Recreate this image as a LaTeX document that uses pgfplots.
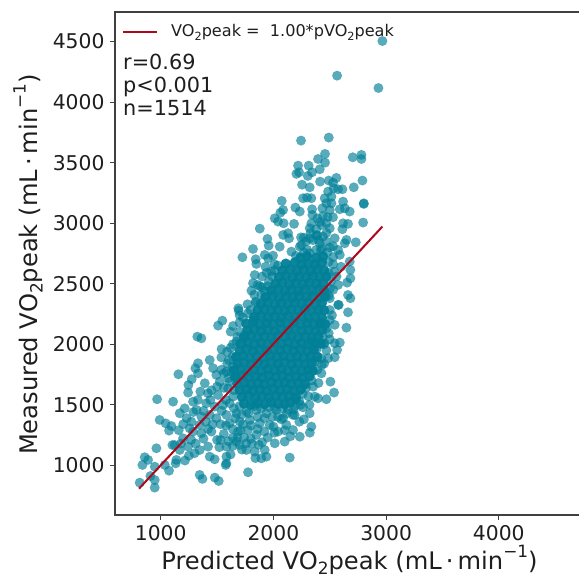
\documentclass[border=0pt]{standalone}
\usepackage{pgfplots}
\usepackage{fontspec}
\setmainfont{DejaVu Sans}
\pgfplotsset{compat=1.18}
\definecolor{dotc}{RGB}{0,127,151}
\definecolor{linec}{RGB}{175,8,28}
\definecolor{txt}{RGB}{30,30,30}
\newcommand{\lowtwo}{\raisebox{-0.22em}{\scalebox{0.7}{2}}}
\newcommand{\upm}{\raisebox{0.48em}{\scalebox{0.7}{−1}}}
\begin{document}
\begin{tikzpicture}[x=1bp,y=1bp]
\clip (0,0) rectangle (579,578);
\begin{axis}[
  at={(115bp,63bp)},anchor=south west,
  scale only axis,width=500bp,height=503bp,
  xmin=594.5,xmax=5031,ymin=590,ymax=4744,
  clip mode=individual,
  xtick={1000,2000,3000,4000},
  ytick={1000,1500,2000,2500,3000,3500,4000,4500},
  /pgf/number format/assume math mode=true,
  /pgf/number format/set thousands separator={},
  tick align=outside,
  xtick pos=bottom,ytick pos=left,
  major tick length=5bp,
  tick style={color=black!75,line width=0.9bp},
  axis line style={color=black!75,line width=1.1bp},
  ticklabel style={font=\fontsize{20.3bp}{22bp}\selectfont,text=txt},
  xticklabel style={yshift=-2bp},
  yticklabel style={xshift=-2bp},
  label style={font=\fontsize{24.2bp}{26bp}\selectfont,text=txt},
  xlabel={Predicted VO\lowtwo peak (mL\,·\,min\upm)},
  ylabel={Measured VO\lowtwo peak (mL\,·\,min\upm)},
  x label style={at={(axis description cs:0.469,0)},anchor=center,yshift=-45bp},
  y label style={at={(axis description cs:0,0.498)},anchor=center,yshift=87bp},
  legend cell align=left,
  legend style={at={(rel axis cs:0.008,0.983)},anchor=north west,draw=none,fill=none,
    font=\fontsize{16.1bp}{18bp}\selectfont,text=txt},
  legend image code/.code={\draw[#1] (0bp,0bp) -- (34bp,0bp);},
]
% dense core
\addplot[only marks,forget plot,mark=*,mark size=5.1bp,
  mark options={draw=dotc,line width=0.4bp,fill=dotc,fill opacity=0.95,draw opacity=0.5}] coordinates {
(1740,1510)(1800,1500)(1860,1515)(1920,1505)(1980,1520)(2040,1510)(2100,1505)(2150,1520)
(1720,1565)(1780,1575)(1840,1560)(1900,1570)(1960,1560)(2020,1575)(2080,1565)(2140,1575)(2200,1560)
(1700,1620)(1760,1630)(1820,1615)(1880,1625)(1940,1615)(2000,1630)(2060,1620)(2120,1630)(2180,1615)(2240,1625)
(1680,1675)(1740,1685)(1800,1670)(1860,1680)(1920,1670)(1980,1685)(2040,1675)(2100,1685)(2160,1670)(2220,1680)(2280,1670)
(1660,1730)(1720,1740)(1780,1725)(1840,1735)(1900,1725)(1960,1740)(2020,1730)(2080,1740)(2140,1725)(2200,1735)(2260,1725)(2320,1735)
(1650,1785)(1710,1795)(1770,1780)(1830,1790)(1890,1780)(1950,1795)(2010,1785)(2070,1795)(2130,1780)(2190,1790)(2250,1780)(2310,1790)(2350,1780)
(1680,1840)(1740,1850)(1800,1835)(1860,1845)(1920,1835)(1980,1850)(2040,1840)(2100,1850)(2160,1835)(2220,1845)(2280,1835)(2340,1845)
(1670,1895)(1730,1905)(1790,1890)(1850,1900)(1910,1890)(1970,1905)(2030,1895)(2090,1905)(2150,1890)(2210,1900)(2270,1890)(2330,1900)(2390,1895)
(1700,1950)(1760,1960)(1820,1945)(1880,1955)(1940,1945)(2000,1960)(2060,1950)(2120,1960)(2180,1945)(2240,1955)(2300,1945)(2360,1955)
(1710,2005)(1770,2015)(1830,2000)(1890,2010)(1950,2000)(2010,2015)(2070,2005)(2130,2015)(2190,2000)(2250,2010)(2310,2000)(2370,2010)(2420,2005)
(1740,2060)(1800,2070)(1860,2055)(1920,2065)(1980,2055)(2040,2070)(2100,2060)(2160,2070)(2220,2055)(2280,2065)(2340,2055)(2400,2065)
(1770,2115)(1830,2125)(1890,2110)(1950,2120)(2010,2110)(2070,2125)(2130,2115)(2190,2125)(2250,2110)(2310,2120)(2370,2110)(2430,2120)
(1760,2170)(1820,2180)(1880,2165)(1940,2175)(2000,2165)(2060,2180)(2120,2170)(2180,2180)(2240,2165)(2300,2175)(2360,2165)(2420,2175)(2460,2165)
(1830,2225)(1890,2235)(1950,2220)(2010,2230)(2070,2220)(2130,2235)(2190,2225)(2250,2235)(2310,2220)(2370,2230)(2430,2220)
(1860,2280)(1920,2290)(1980,2275)(2040,2285)(2100,2275)(2160,2290)(2220,2280)(2280,2290)(2340,2275)(2400,2285)(2450,2280)
(1890,2335)(1950,2345)(2010,2330)(2070,2340)(2130,2330)(2190,2345)(2250,2335)(2310,2345)(2370,2330)(2430,2340)
(1930,2390)(1990,2400)(2050,2385)(2110,2395)(2170,2385)(2230,2400)(2290,2390)(2350,2400)(2410,2385)(2460,2395)
(1980,2445)(2040,2455)(2100,2440)(2160,2450)(2220,2440)(2280,2455)(2340,2445)(2400,2455)(2450,2445)
(2020,2500)(2080,2510)(2140,2495)(2200,2505)(2260,2495)(2320,2510)(2380,2500)(2440,2510)
(2050,2555)(2110,2565)(2170,2550)(2230,2560)(2290,2550)(2350,2565)(2410,2555)(2470,2560)
(2080,2610)(2150,2620)(2210,2605)(2270,2615)(2330,2605)(2390,2620)(2450,2610)
(2110,2665)(2190,2675)(2250,2660)(2310,2670)(2370,2660)(2430,2675)
(2240,2715)(2300,2725)(2380,2715)(2440,2725)
};
% scattered points
\addplot[only marks,forget plot,mark=*,mark size=4.8bp,
  mark options={draw=dotc,line width=0.4bp,draw opacity=0.3,fill=dotc,fill opacity=0.66}] coordinates {
(2967,4504)(2565,4218)(2932,4116)
(2245,3682)(2491,3707)(2458,3572)(2396,3530)(2458,3500)(2704,3544)(2781,3564)(2781,3530)(2219,3475)
(2313,3475)(2204,3407)(2228,3420)(2305,3390)(2343,3420)(2411,3445)(2559,3374)(2414,3343)(2491,3352)
(2529,3335)(2790,3352)(2254,3318)(2322,3296)(2535,3288)(2574,3280)(2612,3280)(2713,3296)(2485,3261)
(2263,3206)(2299,3211)(2337,3206)(2515,3219)(2455,3206)(2470,3164)(2515,3164)(2074,3184)(2618,3178)
(2802,3164)(2802,3159)(2435,3123)(2500,3109)(2589,3115)(2633,3123)(2677,3096)(2195,3129)(2234,3096)
(2086,3109)(2062,3087)(2343,3115)(2346,3068)(2012,3040)(2041,3013)(2091,2999)(2183,2994)(2337,2999)
(2322,2958)(2529,3049)(2470,2999)(2500,2958)(2426,2985)(2618,2999)(2662,2994)(2796,3005)(2612,2950)
(1879,2955)(2086,2903)(2130,2917)(2139,2875)(2245,2883)(2322,2875)(2544,2875)(2648,2862)(2731,2842)
(1947,2870)(1958,2815)(1819,2787)(2056,2806)(2248,2820)(2234,2806)(2411,2834)(2470,2848)(2633,2834)
(1725,2718)(1843,2702)(1849,2663)(1923,2738)(1997,2732)(1953,2710)(2160,2765)(2322,2751)(2589,2738)
(2574,2779)(2677,2683)(2390,2900)(2420,2780)(2480,2760)(2530,2810)(2380,2950)(2270,2760)(2200,2730)
(1834,2572)(1819,2504)(1805,2443)(1893,2407)(1843,2352)(1689,2297)(1796,2283)(1930,2640)(1980,2600)
(1900,2560)(1960,2520)(1880,2480)(2010,2660)(2683,2614)(2683,2545)(2654,2509)(2574,2490)(2662,2407)
(2683,2380)(2580,2325)(2500,2380)(2560,2560)(2600,2640)(2530,2660)(2510,2520)(2530,2450)
(1692,2278)(1843,2344)(1547,2195)(1509,2154)(1325,2063)(1361,2049)(1621,2104)(1642,2151)(1701,2104)
(1672,2022)(1745,2077)(1775,2256)(1820,2201)(1435,1870)(1589,1939)(1538,1892)(1604,1870)(1331,1843)
(1308,1802)(1331,1760)(1275,1711)(1246,1664)(1243,1601)(1352,1609)(1157,1752)(968,1546)(1110,1526)
(1465,1802)(1494,1747)(1583,1774)(1524,1691)(1391,1678)(1420,1595)(1509,1581)(1598,1636)(1627,1774)
(1672,1719)(1287,1526)(1213,1471)(1169,1430)(1317,1458)(1405,1513)(1479,1485)(1553,1499)(1612,1513)
(1642,1568)(991,1375)(1044,1347)(1095,1325)(1074,1287)(1272,1361)(1361,1402)(1435,1416)(1346,1334)
(1257,1306)(1494,1389)(1583,1416)(1672,1430)(1760,1444)(1849,1458)(1938,1430)(2027,1458)(1612,1347)
(1701,1361)(1790,1375)(1879,1347)(1967,1334)(1775,1292)(1686,1279)(1450,1279)(1361,1265)(1287,1279)
(1198,1223)(1124,1168)(1104,1168)(962,1141)(1169,1127)(1243,1155)(1346,1127)(1420,1155)(1435,1072)
(1479,1050)(1583,1155)(1672,1196)(1760,1182)(1760,1127)(1834,1113)(1923,1127)(1583,1017)(1893,1058)
(1938,1072)(2145,1064)(2012,1182)(2100,1196)(2174,1292)(2234,1237)(2337,1320)(2263,1479)(2322,1430)
(2174,1416)(2367,1568)(2396,1554)(2470,1546)(2506,1691)(2538,1601)(2426,1760)(2352,1650)(2115,1334)
(2086,1389)(1849,1251)(2041,1279)(858,1067)(888,1045)(838,1003)(947,989)(1036,1003)(1074,956)(814,857)
(909,912)(947,879)(947,816)(1139,1045)(1133,1017)(1346,921)(1370,888)(1480,899)(1515,871)(1775,943)
(1577,1003)(1583,1072)(1530,1340)(1530,1210)(1640,1230)(1900,1190)
(1250,1080)(1215,1040)(1300,1100)(2500,2283)(2574,2325)(2662,2264)(2648,2137)(2491,2091)(2544,2160)
(2455,2008)(2589,2014)(2544,2008)(2565,1953)(2544,1893)(2485,1884)(2426,1884)(2367,1857)(2381,1953)
(2337,2022)(2500,2201)(2411,2173)(2447,2000)(2323,1270)(2189,1416)
(1650,1470)(1700,1490)(1720,1420)(1780,1430)(1830,1490)(1890,1470)(1960,1480)(2010,1470)(2080,1470)
(2130,1460)(2190,1490)(2230,1530)(1660,1390)(1730,1340)(1800,1330)(1860,1400)(1920,1390)(1990,1400)
(2040,1400)(1640,1300)(1710,1290)(1740,1230)(1800,1220)(1860,1300)(1920,1280)(1680,1230)(1640,1160)
(1720,1130)(1810,1180)(1870,1170)(1950,1230)(2000,1320)(1620,1090)(1700,1170)(1840,1060)(1560,1260)
(1600,1200)(1500,1210)(1460,1340)(1540,1450)(1580,1540)(1650,1620)(1610,1690)(1560,1640)(1600,1720)
(1560,1760)(1640,1820)(1540,1790)(1500,1650)(1450,1620)(1440,1540)(1380,1450)(1400,1360)(1330,1540)
(1290,1440)(1230,1390)(1200,1340)(1160,1290)(1180,1180)(1270,1210)(1310,1180)(1380,1220)(1420,1300)
(1520,1150)(1580,1330)(1700,2180)(1730,2220)(1680,2060)(1640,2000)(1620,1970)(1640,1900)(1590,1840)
(1540,1960)(1700,2240)(1770,2330)(1830,2410)(1860,2490)(1900,2470)(1920,2440)(1950,2480)(1990,2560)
(2010,2610)(2040,2650)(1940,2590)(2290,2850)(2350,2860)(2400,2860)(2430,2790)(2500,2800)(2270,2880)
(2330,2920)(2380,2900)(2470,2920)(2440,2890)(2530,2720)(2490,2680)(2540,2600)(2490,2590)(2500,2460)
(2490,2400)(2390,3040)(2440,3060)(2410,3010)(2480,3050)(2300,2780)(2380,2780)(2200,1540)(2260,1590)
(2290,1640)(2340,1700)(2390,1790)(2430,1830)(2240,1500)(2180,1460)(2120,1430)(2070,1380)(2010,1270)
(2100,1290)(2150,1240)(2230,1360)(2270,1380)(2320,1500)(2310,1570)(2400,1680)(2450,1840)(2470,1950)
(2500,2040)(2440,2060)(2470,2130)(2520,2240)
};
\addplot[color=linec,line width=2bp] coordinates {(808,808)(2967,2972)};
\addlegendentry{\hspace{11bp}VO\lowtwo peak =\ \ 1.00*pVO\lowtwo peak}
\node[anchor=base west,inner sep=0pt,text=txt,font=\fontsize{20.8bp}{22bp}\selectfont] at (rel axis cs:0.016,0.885) {r=0.69};
\node[anchor=base west,inner sep=0pt,text=txt,font=\fontsize{20.8bp}{22bp}\selectfont] at (rel axis cs:0.016,0.839) {p<0.001};
\node[anchor=base west,inner sep=0pt,text=txt,font=\fontsize{20.8bp}{22bp}\selectfont] at (rel axis cs:0.016,0.795) {n=1514};
\end{axis}
\end{tikzpicture}
\end{document}
